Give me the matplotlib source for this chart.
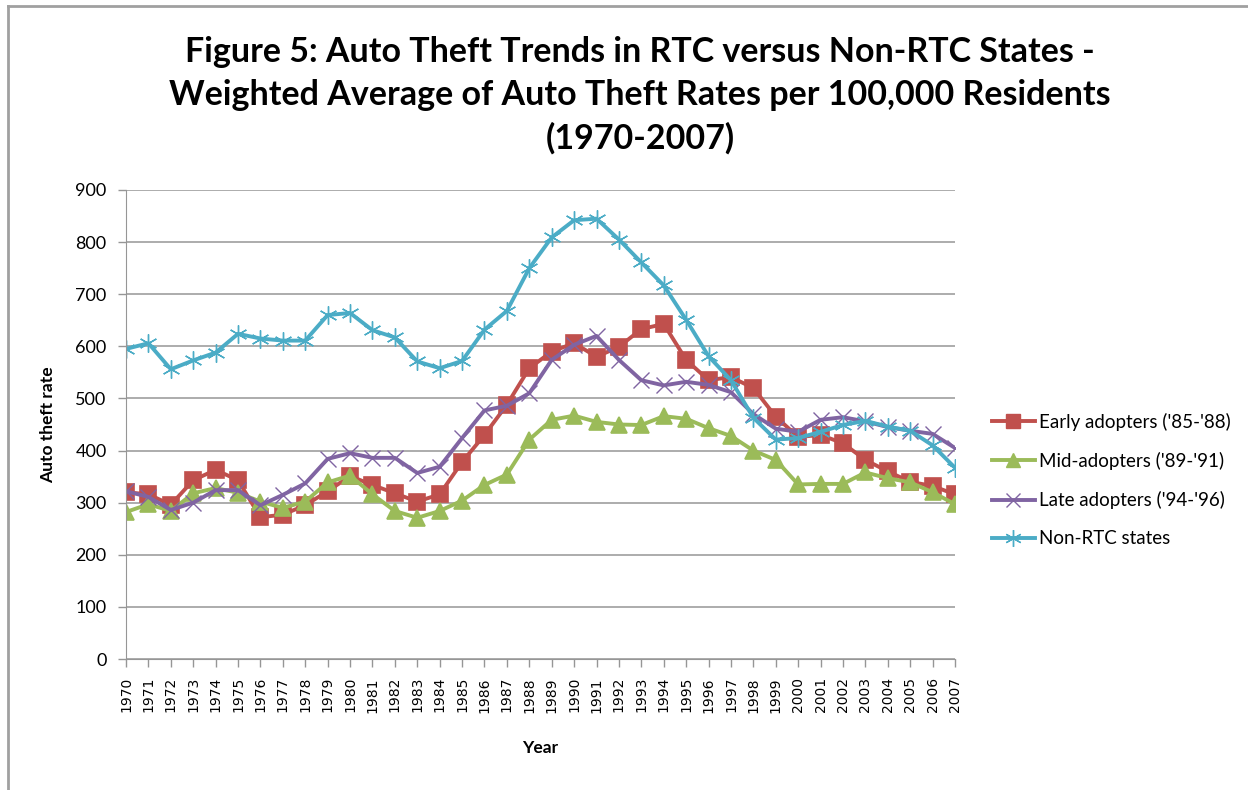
import matplotlib
matplotlib.use("Agg")
import matplotlib.pyplot as plt
from matplotlib.lines import Line2D

years = list(range(1970, 2008))

early = [320, 316, 296, 343, 363, 343, 272, 277, 295, 322, 351, 334, 318,
         302, 316, 378, 430, 488, 558, 590, 606, 580, 599, 633, 643, 574,
         535, 541, 520, 465, 426, 430, 414, 382, 360, 340, 332, 316]
mid = [282, 297, 284, 318, 328, 319, 302, 290, 302, 339, 352, 316, 284,
       271, 284, 304, 334, 354, 421, 459, 467, 455, 450, 449, 466, 461,
       443, 428, 400, 382, 335, 336, 336, 358, 347, 339, 320, 297]
late = [322, 311, 286, 300, 324, 324, 295, 315, 337, 384, 395, 386, 386,
        357, 369, 424, 477, 486, 510, 574, 603, 620, 574, 535, 525, 532,
        526, 512, 470, 442, 436, 459, 464, 456, 445, 438, 432, 405]
non_rtc = [595, 606, 556, 573, 588, 624, 615, 611, 611, 660, 664, 631, 617,
           571, 558, 572, 632, 668, 750, 809, 842, 845, 805, 761, 717, 651,
           581, 535, 463, 421, 424, 436, 449, 457, 446, 438, 410, 367]

series_names = ["Early adopters ('85-'88)", "Mid-adopters ('89-'91)",
                "Late adopters ('94-'96)", "Non-RTC states"]
yticks = list(range(0, 1000, 100))

colors = ["#C0504D", "#9BBB59", "#8064A2", "#4BACC6"]
markers = ["s", "^", "x", (6, 2, 0)]
msizes = [11, 11, 11, 13]

fig = plt.figure(figsize=(12.48, 7.9), dpi=100)
ax = fig.add_axes([126 / 1248, 1 - 659 / 790, (955 - 126) / 1248, (659 - 190) / 790])

x = list(range(len(years)))
for vals, c, m, ms in zip([early, mid, late, non_rtc], colors, markers, msizes):
    ax.plot(x, vals, color=c, lw=2.8, marker=m, markersize=ms,
            markeredgewidth=1.2 if m in ("s", "^") else 1.0,
            markeredgecolor=c, markerfacecolor=c, solid_joinstyle="round")

ax.set_xlim(0, len(years) - 1)
ax.set_ylim(0, 900)
ax.set_yticks(yticks)
ax.set_yticklabels([str(v) for v in yticks], fontfamily="Lato", fontsize=13)
ax.set_xticks(x)
ax.set_xticklabels([str(y) for y in years], rotation=90, fontsize=10,
                   fontfamily="DejaVu Sans")
ax.grid(axis="y", color="#969696", lw=1.1)
ax.set_axisbelow(True)
for s in ["top", "right"]:
    ax.spines[s].set_visible(False)
ax.spines["left"].set_color("#969696")
ax.spines["bottom"].set_color("#969696")
ax.tick_params(axis="both", color="#969696", length=6, width=1)
ax.tick_params(axis="y", pad=8)
ax.tick_params(axis="x", pad=7)

ax.set_ylabel("Auto theft rate", fontfamily="Lato", fontweight="bold",
              fontsize=12.5, labelpad=14)
ax.set_xlabel("Year", fontfamily="Lato", fontweight="bold", fontsize=12.5,
              labelpad=20)

fig.text(0.513, 1 - 95 / 790,
         "Figure 5: Auto Theft Trends in RTC versus Non-RTC States -\n"
         "Weighted Average of Auto Theft Rates per 100,000 Residents\n"
         "(1970-2007)",
         ha="center", va="center", fontfamily="Lato", fontweight="bold",
         fontsize=24.5, linespacing=1.42)

handles = [Line2D([0], [0], color=c, lw=2.8, marker=m, markersize=ms - 1,
                  markerfacecolor=c, markeredgecolor=c)
           for c, m, ms in zip(colors, markers, msizes)]
fig.legend(handles, series_names, loc="center left",
           bbox_to_anchor=(975 / 1248, 1 - 480 / 790), frameon=False,
           prop={"family": "Lato", "size": 13.5}, handlelength=2.3,
           handletextpad=0.2, labelspacing=1.12)

# chart frame (top and left edges)
fig.add_artist(Line2D([8 / 1248, 1], [1 - 6 / 790, 1 - 6 / 790],
                      color="#a0a0a0", lw=2, transform=fig.transFigure))
fig.add_artist(Line2D([8 / 1248, 8 / 1248], [0, 1 - 6 / 790],
                      color="#a0a0a0", lw=2, transform=fig.transFigure))

fig.savefig("out.png", dpi=100)
